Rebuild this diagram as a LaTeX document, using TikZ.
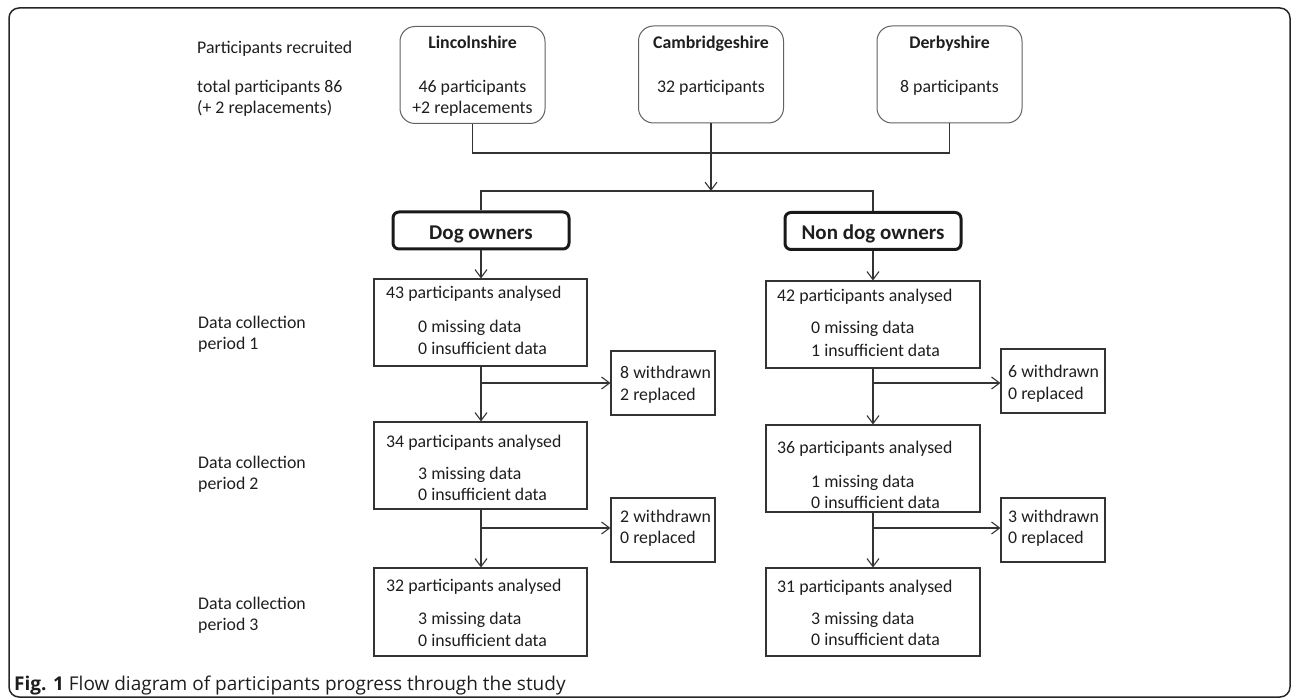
\documentclass[tikz,border=0pt]{standalone}
\usepackage{fontspec}
\setmainfont{Carlito}
\newfontfamily\capfont{Open Sans}
\usetikzlibrary{arrows.meta,calc}
\definecolor{ink}{HTML}{1E1E1E}
\definecolor{lin}{HTML}{333333}
\begin{document}
\begin{tikzpicture}[x=1pt,y=-1pt,
  txt/.style={font=\fontsize{17.8}{21}\selectfont, inner sep=0pt, text=ink},
  bx/.style={draw=lin, line width=1.1pt, inner sep=0pt, minimum width=213pt, minimum height=87pt},
  reg/.style={draw=black!62, line width=1pt, rounded corners=15pt, inner sep=0pt, minimum width=145pt, minimum height=97pt},
  grp/.style={draw=black!90, line width=3pt, rounded corners=6pt, inner sep=0pt, minimum width=176pt, minimum height=37pt},
  side/.style={draw=lin, line width=1.1pt, inner sep=0pt, minimum width=104pt, minimum height=64pt},
  con/.style={draw=lin, line width=1.1pt},
  arr/.style={con, -{Straight Barb[length=8pt,width=12pt,line width=1.1pt]}}]
\useasboundingbox (0,0) rectangle (1292,700);
% outer frame
\draw[line width=1.5pt, draw=black!85, rounded corners=10pt] (9,8) rectangle (1290,697);

% region boxes
\node[reg] (lin) at (472.5,75) {};
\node[reg] (cam) at (711,74.5) {};
\node[reg] (der) at (949.5,74.5) {};
\node[txt, anchor=base, font=\bfseries\fontsize{17.8}{21}\selectfont] at (472.5,49) {Lincolnshire};
\node[txt, anchor=base] at (472.5,93) {46 participants};
\node[txt, anchor=base] at (472.5,114) {+2 replacements};
\node[txt, anchor=base, font=\bfseries\fontsize{17.8}{21}\selectfont] at (711,49) {Cambridgeshire};
\node[txt, anchor=base] at (711,93) {32 participants};
\node[txt, anchor=base, font=\bfseries\fontsize{17.8}{21}\selectfont] at (949.5,49) {Derbyshire};
\node[txt, anchor=base] at (949.5,93) {8 participants};

% left labels
\node[txt, anchor=base west] at (197,54) {Participants recruited};
\node[txt, anchor=base west] at (197,93) {total participants 86};
\node[txt, anchor=base west] at (197,114) {(+ 2 replacements)};
\node[txt, anchor=base west] at (198,328) {Data collection};
\node[txt, anchor=base west] at (198,349) {period 1};
\node[txt, anchor=base west] at (198,468) {Data collection};
\node[txt, anchor=base west] at (198,489) {period 2};
\node[txt, anchor=base west] at (198,609) {Data collection};
\node[txt, anchor=base west] at (198,630) {period 3};

% group boxes
\node[grp] (dog) at (481,230.5) {};
\node[grp] (non) at (873,231) {};
\node[txt, anchor=base, font=\bfseries\fontsize{21}{25}\selectfont] at (481,240) {Dog owners};
\node[txt, anchor=base, font=\bfseries\fontsize{21}{25}\selectfont] at (873,240) {Non dog owners};

% left column
\node[bx] (b43) at (480.5,322.5) {};
\node[bx] (b34) at (480.5,465.5) {};
\node[bx, minimum height=88pt] (b32) at (480.5,612) {};
\node[txt, anchor=base west] at (386,299) {43 participants analysed};
\node[txt, anchor=base west] at (418,333) {0 missing data};
\node[txt, anchor=base west] at (418,354) {0 insufficient data};
\node[txt, anchor=base west] at (386,447) {34 participants analysed};
\node[txt, anchor=base west] at (418,479) {3 missing data};
\node[txt, anchor=base west] at (418,500) {0 insufficient data};
\node[txt, anchor=base west] at (386,591) {32 participants analysed};
\node[txt, anchor=base west] at (418,624) {3 missing data};
\node[txt, anchor=base west] at (418,646) {0 insufficient data};

% right column
\node[bx, minimum width=214pt] (b42) at (873,324.5) {};
\node[bx, minimum width=214pt] (b36) at (873,468.5) {};
\node[bx, minimum width=214pt, minimum height=88pt] (b31) at (873,612) {};
\node[txt, anchor=base west] at (777,302) {42 participants analysed};
\node[txt, anchor=base west] at (811,334) {0 missing data};
\node[txt, anchor=base west] at (811,356) {1 insufficient data};
\node[txt, anchor=base west] at (777,453) {36 participants analysed};
\node[txt, anchor=base west] at (811,487) {1 missing data};
\node[txt, anchor=base west] at (811,508) {0 insufficient data};
\node[txt, anchor=base west] at (777,592) {31 participants analysed};
\node[txt, anchor=base west] at (811,624) {3 missing data};
\node[txt, anchor=base west] at (811,645) {0 insufficient data};

% side boxes
\node[side] (w8) at (663,383) {};
\node[side] (w2) at (663,530) {};
\node[side] (w6) at (1053,381) {};
\node[side] (w3) at (1053,530) {};
\node[txt, anchor=base west] at (620,378) {8 withdrawn};
\node[txt, anchor=base west] at (620,400) {2 replaced};
\node[txt, anchor=base west] at (620,522) {2 withdrawn};
\node[txt, anchor=base west] at (620,543) {0 replaced};
\node[txt, anchor=base west] at (1008,377) {6 withdrawn};
\node[txt, anchor=base west] at (1008,399) {0 replaced};
\node[txt, anchor=base west] at (1008,522) {3 withdrawn};
\node[txt, anchor=base west] at (1008,543) {0 replaced};

% top connectors
\coordinate (j1) at (472.5,153);
\coordinate (split) at (711,191);
\draw[con] (lin.south) -- (j1) -| (der.south);
\draw[arr] (cam.south) -- (split);
\draw[con] (dog.north) -- (dog.north |- split) -- (non.north |- split) -- (non.north);

% column arrows
\draw[arr] (dog.south) -- (dog.south |- b43.north);
\draw[arr] (b43.south -| dog.south) -- (b34.north -| dog.south);
\draw[arr] (b34.south -| dog.south) -- (b32.north -| dog.south);
\draw[arr] (non.south) -- (b42.north);
\draw[arr] (b42.south) -- (b36.north);
\draw[arr] (b36.south) -- (b31.north);

% side arrows
\draw[arr] (dog.south |- 0,383) -- (w8.west |- 0,383);
\draw[arr] (dog.south |- 0,528) -- (w2.west |- 0,528);
\draw[arr] (non.south |- 0,383) -- (w6.west |- 0,383);
\draw[arr] (non.south |- 0,528) -- (w3.west |- 0,528);

% caption
\node[anchor=base west, inner sep=0pt, text=ink, font=\capfont\fontsize{19}{22}\selectfont] (cap) at (14,690) {\textbf{Fig. 1} Flow diagram of participants progress through the study};
\end{tikzpicture}
\end{document}
